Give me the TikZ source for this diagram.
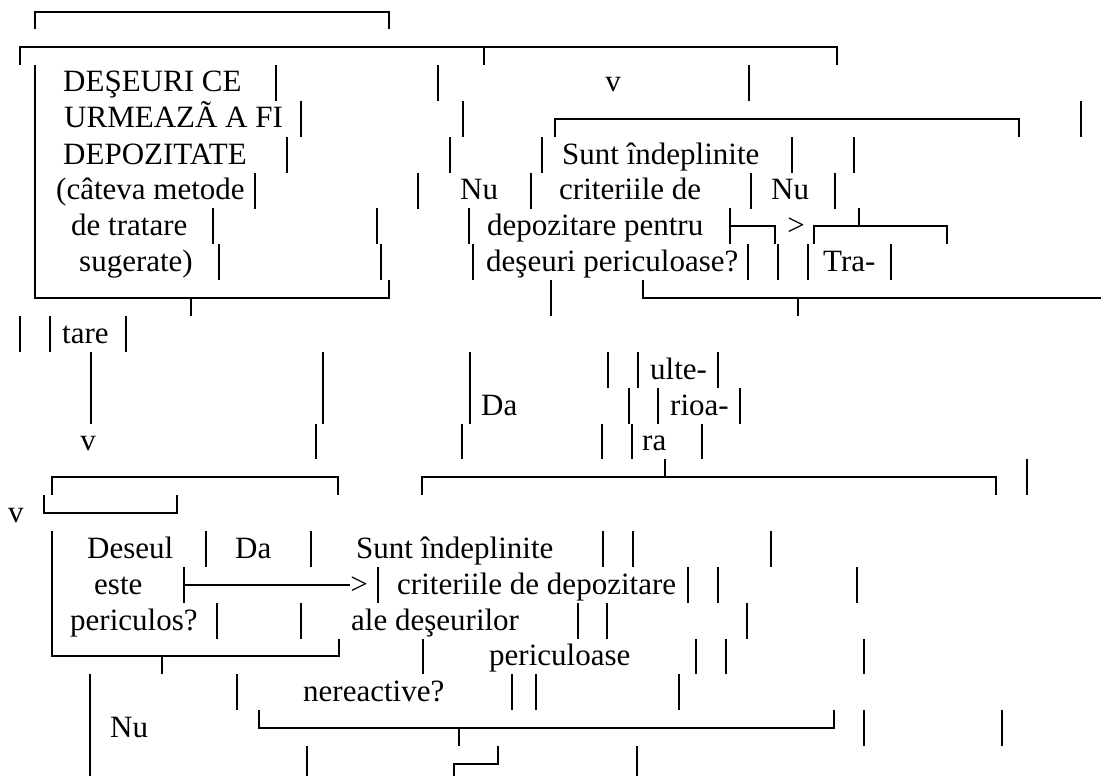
\documentclass[tikz,border=0pt]{standalone}
\usepackage{fontspec}
\setmainfont{Liberation Serif}
\tikzset{
    BR/.style ={line width=2.6pt},
    TX/.style ={anchor=base west, inner sep=0pt, font=\fontsize{31}{36}\selectfont},
    TV/.style ={anchor=base, inner sep=0pt, font=\fontsize{31}{36}\selectfont}}

\begin{document}
\begin{tikzpicture}[x=1pt,y=-1pt]
        \useasboundingbox (0,0) rectangle (1101,776);
        \node[TX] (1) at (63,92){DEŞEURI CE};
        \node[TX] (2) at (64,128){URMEAZÃ A FI};
        \node[TX] (3) at (63,164){DEPOZITATE};
        \node[TX] (4) at (56,199){(câteva metode};
        \node[TX] (5) at (71,235){de tratare};
        \node[TX] (6) at (79,271){sugerate)};
        \node[TV] (7) at (613,92){v};
        \node[TX] (8) at (562,164){Sunt îndeplinite};
        \node[TX] (9) at (460,199){Nu};
        \node[TX] (10) at (559,199){criteriile de};
        \node[TX] (11) at (771,199){Nu};
        \node[TX] (12) at (487,235){depozitare pentru};
        \node[TV] (13) at (796,235){>};
        \node[TX] (14) at (486,271){deşeuri periculoase?};
        \node[TX] (15) at (823,271){Tra-};
        \node[TX] (16) at (62,343){tare};
        \node[TX] (17) at (650,379){ulte-};
        \node[TX] (18) at (481,415){Da};
        \node[TX] (19) at (670,415){rioa-};
        \node[TV] (20) at (88,450){v};
        \node[TX] (21) at (642,450){ra};
        \node[TV] (22) at (16,522){v};
        \node[TX] (23) at (87,558){Deseul};
        \node[TX] (24) at (235,558){Da};
        \node[TX] (25) at (356,558){Sunt îndeplinite};
        \node[TX] (26) at (94,594){este};
        \node[TV] (27) at (359,594){>};
        \node[TX] (28) at (397,594){criteriile de depozitare};
        \node[TX] (29) at (70,630){periculos?};
        \node[TX] (30) at (351,630){ale deşeurilor};
        \node[TX] (31) at (489,665){periculoase};
        \node[TX] (32) at (303,701){nereactive?};
        \node[TX] (33) at (110,737){Nu};
        \draw[BR] (35,29) -- (35,12) -- (389,12) -- (389,29);
        \draw[BR] (20,65) -- (20,47) -- (837,47) -- (837,65) (484,47) -- (484,65);
        \draw[BR] (35,65) -- (35,298) -- (389,298) -- (389,280) (191,298) -- (191,316);
        \draw[BR] (276,65) -- ++(0,36) (438,65) -- ++(0,36) (749,65) -- ++(0,36);
        \draw[BR] (301,101) -- ++(0,36) (463,101) -- ++(0,36) (1081,101) -- ++(0,36);
        \draw[BR] (555,137) -- (555,119) -- (1019,119) -- (1019,137);
        \draw[BR] (287,137) -- ++(0,36) (450,137) -- ++(0,36) (542,137) -- ++(0,36) (792,137) -- ++(0,36) (854,137) -- ++(0,36);
        \draw[BR] (255,173) -- ++(0,36) (418,173) -- ++(0,36) (531,173) -- ++(0,36) (751,173) -- ++(0,36) (835,173) -- ++(0,36);
        \draw[BR] (213,208) -- ++(0,36) (377,208) -- ++(0,36) (469,208) -- ++(0,36);
        \draw[BR] (730,208) -- (730,244) (730,226) -- (775,226) -- (775,244);
        \draw[BR] (814,244) -- (814,226) -- (947,226) -- (947,244) (859,208) -- (859,226);
        \draw[BR] (219,244) -- ++(0,36) (381,244) -- ++(0,36) (473,244) -- ++(0,36) (748,244) -- ++(0,36) (778,244) -- ++(0,36) (808,244) -- ++(0,36) (891,244) -- ++(0,36);
        \draw[BR] (551,280) -- ++(0,36);
        \draw[BR] (643,280) -- (643,298) -- (1101,298) (798,298) -- (798,316);
        \draw[BR] (20,316) -- ++(0,36) (50,316) -- ++(0,36) (126,316) -- ++(0,36);
        \draw[BR] (91,352) -- ++(0,72) (323,352) -- ++(0,72) (470,352) -- ++(0,72);
        \draw[BR] (608,352) -- ++(0,36) (638,352) -- ++(0,36) (718,352) -- ++(0,36);
        \draw[BR] (629,388) -- ++(0,36) (658,388) -- ++(0,36) (740,388) -- ++(0,36);
        \draw[BR] (316,424) -- ++(0,35) (462,424) -- ++(0,35) (602,424) -- ++(0,35) (632,424) -- ++(0,35) (702,424) -- ++(0,35);
        \draw[BR] (52,495) -- (52,477) -- (338,477) -- (338,495);
        \draw[BR] (422,495) -- (422,477) -- (996,477) -- (996,495) (665,459) -- (665,477);
        \draw[BR] (1027,459) -- ++(0,36);
        \draw[BR] (44,495) -- (44,513) -- (177,513) -- (177,495);
        \draw[BR] (52,531) -- (52,656) -- (339,656) -- (339,639) (162,656) -- (162,674);
        \draw[BR] (206,531) -- ++(0,36) (311,531) -- ++(0,36) (603,531) -- ++(0,36) (633,531) -- ++(0,36) (771,531) -- ++(0,36);
        \draw[BR] (184,567) -- (184,603) (184,585) -- (350,585);
        \draw[BR] (378,567) -- ++(0,36) (688,567) -- ++(0,36) (718,567) -- ++(0,36) (857,567) -- ++(0,36);
        \draw[BR] (217,603) -- ++(0,36) (301,603) -- ++(0,36) (578,603) -- ++(0,36) (607,603) -- ++(0,36) (747,603) -- ++(0,36);
        \draw[BR] (423,639) -- ++(0,35) (696,639) -- ++(0,35) (726,639) -- ++(0,35) (864,639) -- ++(0,35);
        \draw[BR] (90,674) -- (90,776);
        \draw[BR] (237,674) -- ++(0,36) (512,674) -- ++(0,36) (536,674) -- ++(0,36) (679,674) -- ++(0,36);
        \draw[BR] (259,710) -- (259,728) -- (834,728) -- (834,710) (459,728) -- (459,746);
        \draw[BR] (864,710) -- ++(0,36) (1002,710) -- ++(0,36);
        \draw[BR] (498,746) -- (498,764) -- (454,764) -- (454,776);
        \draw[BR] (307,746) -- (307,776) (637,746) -- (637,776);
    \end{tikzpicture}
\end{document}
